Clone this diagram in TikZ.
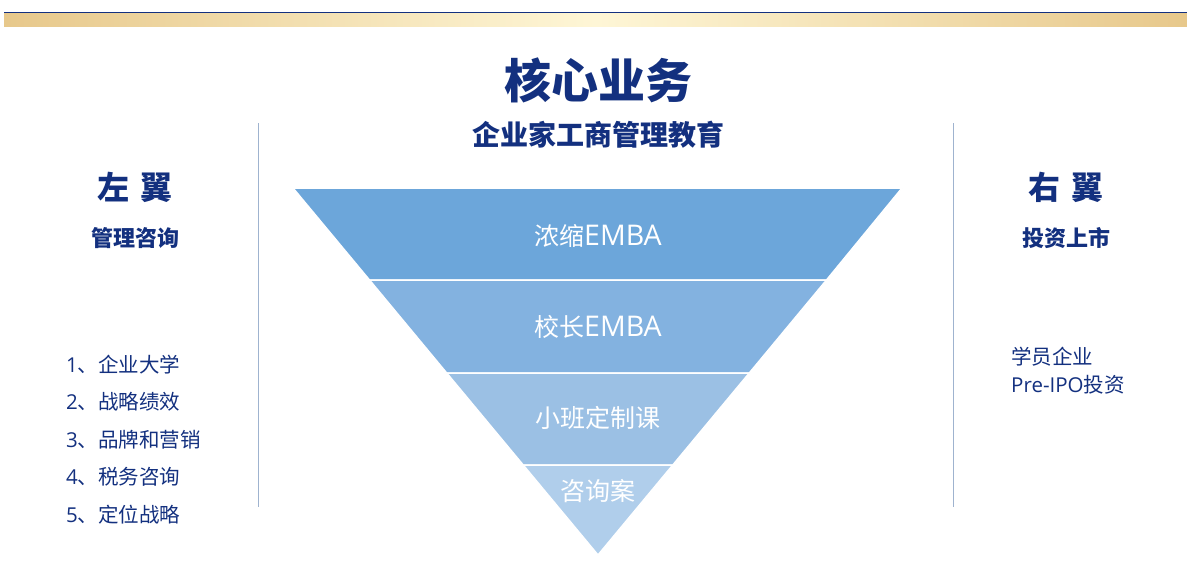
\documentclass[tikz,border=0pt]{standalone}
\usepackage{fontspec}
\setmainfont{Noto Sans CJK SC}
\newfontfamily\latinfont{Open Sans}
\newfontfamily\embafont{Open Sans}[Scale=1.14]
\definecolor{navy}{HTML}{13307F}
\definecolor{gold}{HTML}{E7C88B}
\definecolor{cream}{HTML}{FEF6D6}
\definecolor{bandA}{HTML}{6CA6DA}
\definecolor{bandB}{HTML}{83B2E0}
\definecolor{bandC}{HTML}{9BC0E4}
\definecolor{bandD}{HTML}{B0CEEB}
\definecolor{rule}{HTML}{9FB3CF}
\begin{document}
\begin{tikzpicture}[x=1pt,y=-1pt]
  \useasboundingbox (0,0) rectangle (1187,574);

  % top bar
  \shade[left color=gold,right color=gold,middle color=cream] (4,13) rectangle (1187,26);
  \draw[navy,line width=1.2pt] (4,12.5) -- (1187,12.5);

  % funnel
  \coordinate (tl) at (293,188);
  \coordinate (tr) at (902,188);
  \coordinate (a1) at (369.5,280);
  \coordinate (b1) at (826.5,280);
  \coordinate (a2) at (446.7,373);
  \coordinate (b2) at (749.3,373);
  \coordinate (a3) at (523.2,465);
  \coordinate (b3) at (672.8,465);
  \coordinate (tip) at (598,555);

  \begin{scope}[draw=white, line width=1.5pt]
    \filldraw[fill=bandA] (tl) -- (tr) -- (b1) -- (a1) -- cycle;
    \filldraw[fill=bandB] (a1) -- (b1) -- (b2) -- (a2) -- cycle;
    \filldraw[fill=bandC] (a2) -- (b2) -- (b3) -- (a3) -- cycle;
    \filldraw[fill=bandD] (a3) -- (b3) -- (tip) -- cycle;
  \end{scope}

  \begin{scope}[every node/.style={text=white, font=\fontsize{25}{28}\selectfont}]
    \node (emba)   at (598,236) {浓缩{\embafont EMBA}};
    \node (xiao)   at (598,327) {校长{\embafont EMBA}};
    \node (ban)    at (598,418) {小班定制课};
    \node (zixun)  at (598,491) {咨询案};
  \end{scope}

  % titles
  \begin{scope}[every node/.style={text=navy}]
    \node (title) at (598,80) {\fontsize{47}{52}\selectfont\bfseries 核心业务};
    \node (sub)   at (598,135) {\fontsize{28}{32}\selectfont\bfseries 企业家工商管理教育};
    \node (left)  at (135,187) {\fontsize{32}{36}\selectfont\bfseries 左\hspace{0.35em}翼};
    \node (lsub)  at (135,238) {\fontsize{22}{26}\selectfont\bfseries 管理咨询};
    \node (right) at (1066,187) {\fontsize{32}{36}\selectfont\bfseries 右\hspace{0.35em}翼};
    \node (rsub)  at (1066,238) {\fontsize{22}{26}\selectfont\bfseries 投资上市};
  \end{scope}

  % dividers
  \draw[rule, line width=0.8pt] (258,123) -- (258,507);
  \draw[rule, line width=0.8pt] (953,123) -- (953,507);

  % lists
  \begin{scope}[every node/.style={text=navy, anchor=west, inner sep=0pt, font=\fontsize{20.5}{24}\selectfont}]
    \node (l1) at (66,365) {{\latinfont 1}、企业大学};
    \node (l2) at (66,402) {{\latinfont 2}、战略绩效};
    \node (l3) at (66,440) {{\latinfont 3}、品牌和营销};
    \node (l4) at (66,477) {{\latinfont 4}、税务咨询};
    \node (l5) at (66,515) {{\latinfont 5}、定位战略};
    \node (r1) at (1011,357) {学员企业};
    \node (r2) at (1011,385) {{\latinfont Pre-IPO}投资};
  \end{scope}

\end{tikzpicture}
\end{document}
